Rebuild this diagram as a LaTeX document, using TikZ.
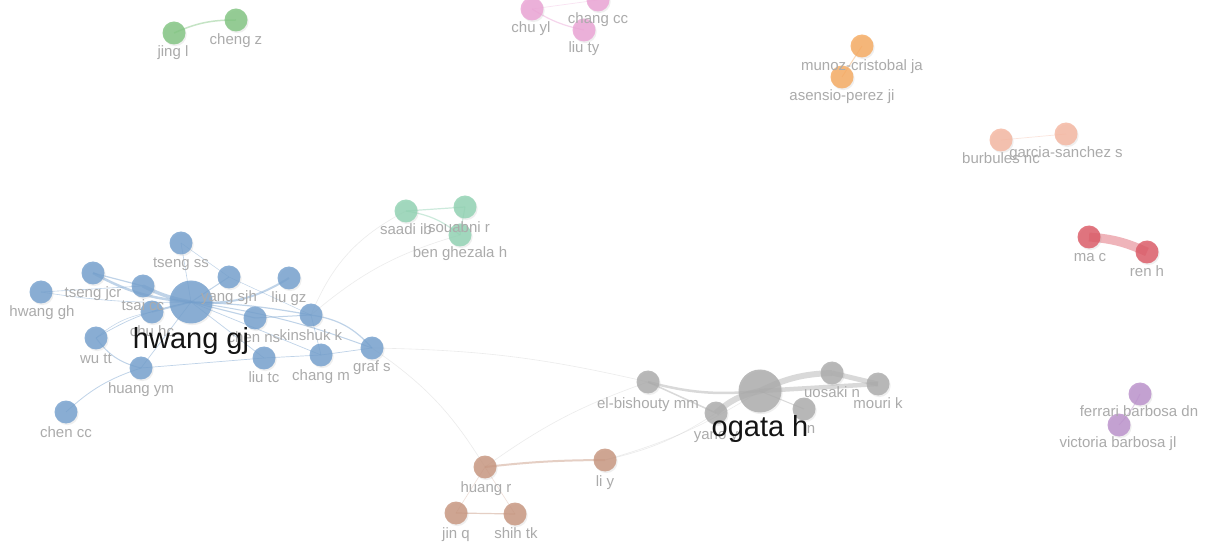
\documentclass[tikz,border=0pt]{standalone}
\usepackage{fontspec}
\setmainfont{Liberation Sans}
\usetikzlibrary{shadows}
\definecolor{cblue}{HTML}{739FCD}
\definecolor{cgray}{HTML}{ABABAB}
\definecolor{cgreen}{HTML}{80C480}
\definecolor{cpink}{HTML}{EBA3D5}
\definecolor{corange}{HTML}{F6AA60}
\definecolor{csalmon}{HTML}{F5B6A0}
\definecolor{cred}{HTML}{DC5A66}
\definecolor{cpurple}{HTML}{BA90CB}
\definecolor{cteal}{HTML}{90D2B2}
\definecolor{cbrown}{HTML}{C7957E}
\definecolor{labc}{HTML}{ABABAB}
\tikzset{
 au/.style={circle, fill=#1, fill opacity=0.82, inner sep=0pt, minimum size=23pt,
   drop shadow={opacity=0.12, shadow xshift=1.2pt, shadow yshift=-1.6pt}},
 bignode/.style={minimum size=43pt},
 lab/.style={text=labc, font=\fontsize{15}{15}\selectfont, inner sep=0pt, anchor=base},
 biglab/.style={text=black!92, font=\fontsize{29}{29}\selectfont, inner sep=0pt, anchor=base},
 ln/.style={draw=#1, line width=0.9pt, draw opacity=0.45},
 faint/.style={draw=black!25, line width=0.6pt, draw opacity=0.3},
}
\begin{document}
\begin{tikzpicture}[x=1pt,y=-1pt]
\fill[white] (0,0) rectangle (1208,545);
\useasboundingbox (0,0) rectangle (1208,545);
% ---------- positions ----------
% blue
\coordinate (hgj) at (191,302);
\coordinate (tss) at (181,243);
\coordinate (ysjh) at (229,277);
\coordinate (lgz) at (289,278);
\coordinate (tjcr) at (93,273);
\coordinate (tcc) at (143,286);
\coordinate (hgh) at (41,292);
\coordinate (chc) at (152,312);
\coordinate (wtt) at (96,338);
\coordinate (hym) at (141,368);
\coordinate (ccc) at (66,412);
\coordinate (cns) at (255,318);
\coordinate (kk) at (311,315);
\coordinate (ltc) at (264,358);
\coordinate (cm) at (321,355);
\coordinate (gs) at (372,348);
% gray
\coordinate (ogh) at (760,391);
\coordinate (elb) at (648,382);
\coordinate (yano) at (716,413);
\coordinate (uos) at (832,373);
\coordinate (mouri) at (878,384);
\coordinate (nn) at (804,409);
% brown
\coordinate (hr) at (485,467);
\coordinate (liy) at (605,460);
\coordinate (jq) at (456,513);
\coordinate (stk) at (515,514);
% teal
\coordinate (sib) at (406,211);
\coordinate (sr) at (465,207);
\coordinate (bgh) at (460,235);
% others
\coordinate (jl) at (174,33);
\coordinate (cz) at (236,20);
\coordinate (cyl) at (532,9);
\coordinate (ccc2) at (598,0);
\coordinate (lty) at (584,30);
\coordinate (mcj) at (862,46);
\coordinate (apj) at (842,77);
\coordinate (bnc) at (1001,140);
\coordinate (gss) at (1066,134);
\coordinate (mac) at (1089,237);
\coordinate (renh) at (1147,252);
\coordinate (fbd) at (1140,394);
\coordinate (vbj) at (1119,425);
% ---------- faint cross-cluster edges ----------
\draw[faint] (kk) to[bend left=20] (sib);
\draw[faint] (kk) to[bend left=12] (bgh);
\draw[faint] (gs) to[bend left=6] (elb);
\draw[faint] (gs) to[bend left=12] (hr);
\draw[faint] (liy) to[bend right=10] (yano);
\draw[faint] (hr) to[bend left=8] (elb);
\draw[faint] (liy) to[bend right=8] (ogh);
% ---------- blue edges ----------
\draw[ln=cblue, line width=2.5pt] (tjcr) to[bend right=12] (hgj);
\draw[ln=cblue, line width=3.5pt] (tcc) to[bend right=8] (hgj);
\draw[ln=cblue, line width=2pt] (hgj) to[bend right=18] (lgz);
\draw[ln=cblue, line width=1pt] (hgj) -- (ysjh);
\draw[ln=cblue, line width=0.6pt] (hgj) -- (tss);
\draw[ln=cblue, line width=0.6pt] (hgj) to[bend left=5] (hgh);
\draw[ln=cblue, line width=1.2pt] (hgj) -- (cns);
\draw[ln=cblue, line width=1.2pt] (hgj) to[bend left=4] (kk);
\draw[ln=cblue, line width=1pt] (hgj) to[bend left=6] (gs);
\draw[ln=cblue, line width=1.5pt] (hgj) -- (chc);
\draw[ln=cblue, line width=0.7pt] (hgj) to[bend right=10] (wtt);
\draw[ln=cblue, line width=0.7pt] (hgj) -- (hym);
\draw[ln=cblue, line width=0.7pt] (hgj) -- (ltc);
\draw[ln=cblue, line width=0.7pt] (hgj) -- (cm);
\draw[ln=cblue, line width=1.2pt] (tjcr) -- (tcc);
\draw[ln=cblue, line width=0.6pt] (hgh) -- (tcc);
\draw[ln=cblue, line width=1pt] (wtt) to[bend right=20] (hym);
\draw[ln=cblue, line width=0.8pt] (hym) to[bend right=12] (ccc);
\draw[ln=cblue, line width=0.7pt] (hym) -- (ltc);
\draw[ln=cblue, line width=0.7pt] (ltc) -- (cm);
\draw[ln=cblue, line width=0.7pt] (cm) -- (gs);
\draw[ln=cblue, line width=1.2pt] (kk) to[bend left=20] (gs);
\draw[ln=cblue, line width=0.7pt] (kk) -- (cm);
\draw[ln=cblue, line width=1pt] (cns) -- (kk);
\draw[ln=cblue, line width=0.5pt] (tss) -- (ysjh);
\draw[ln=cblue, line width=0.5pt] (ysjh) -- (kk);
\draw[ln=cblue, line width=0.5pt] (wtt) to[bend left=15] (chc);
% ---------- gray edges ----------
\draw[ln=cgray, line width=6pt] (yano) to[bend left=15] (ogh);
\draw[ln=cgray, line width=6pt] (ogh) to[bend left=12] (uos);
\draw[ln=cgray, line width=5pt] (uos) -- (mouri);
\draw[ln=cgray, line width=4.5pt] (ogh) -- (mouri);
\draw[ln=cgray, line width=2.5pt] (elb) to[bend right=10] (ogh);
\draw[ln=cgray, line width=1.5pt] (elb) -- (yano);
\draw[ln=cgray, line width=1pt] (ogh) -- (nn);
% ---------- brown edges ----------
\draw[ln=cbrown, line width=2pt] (hr) to[bend left=3] (liy);
\draw[ln=cbrown, line width=1.2pt] (jq) -- (stk);
\draw[ln=cbrown, line width=0.6pt, draw opacity=0.3] (hr) -- (jq);
\draw[ln=cbrown, line width=0.6pt, draw opacity=0.3] (hr) -- (stk);
% ---------- other edges ----------
\draw[ln=cgreen, line width=1.5pt] (jl) to[bend left=12] (cz);
\draw[ln=cpink, line width=1.2pt] (cyl) to[bend right=10] (lty);
\draw[ln=cpink, line width=0.7pt, draw opacity=0.3] (cyl) -- (ccc2);
\draw[ln=corange, line width=1pt] (mcj) -- (apj);
\draw[ln=csalmon, line width=0.7pt, draw opacity=0.35] (bnc) -- (gss);
\draw[ln=cred, line width=9pt] (mac) to[bend left=10] (renh);
\draw[ln=cpurple, line width=1pt] (fbd) to[bend left=8] (vbj);
\draw[ln=cteal, line width=1.2pt] (sib) -- (sr);
\draw[ln=cteal, line width=1.2pt] (sib) to[bend left=15] (bgh);
\draw[ln=cteal, line width=1pt] (sr) -- (bgh);
% ---------- circles ----------
\foreach \p in {tss,ysjh,lgz,tjcr,tcc,hgh,chc,wtt,hym,ccc,cns,kk,ltc,cm,gs}
  \node[au=cblue] (n-\p) at (\p) {};
\node[au=cblue, bignode] (n-hgj) at (hgj) {};
\foreach \p in {elb,yano,uos,mouri,nn}
  \node[au=cgray] (n-\p) at (\p) {};
\node[au=cgray, bignode] (n-ogh) at (ogh) {};
\foreach \p in {hr,liy,jq,stk} \node[au=cbrown] (n-\p) at (\p) {};
\foreach \p in {sib,sr,bgh} \node[au=cteal] (n-\p) at (\p) {};
\foreach \p in {jl,cz} \node[au=cgreen] (n-\p) at (\p) {};
\foreach \p in {cyl,ccc2,lty} \node[au=cpink] (n-\p) at (\p) {};
\foreach \p in {mcj,apj} \node[au=corange] (n-\p) at (\p) {};
\foreach \p in {bnc,gss} \node[au=csalmon] (n-\p) at (\p) {};
\foreach \p in {mac,renh} \node[au=cred] (n-\p) at (\p) {};
\foreach \p in {fbd,vbj} \node[au=cpurple] (n-\p) at (\p) {};
% ---------- labels ----------
\node[lab] (l-tss) at (181,268) {tseng ss};
\node[lab] (l-ysjh) at (229,302) {yang sjh};
\node[lab] (l-lgz) at (289,303) {liu gz};
\node[lab] (l-tjcr) at (93,298) {tseng jcr};
\node[lab] (l-tcc) at (143,311) {tsai cc};
\node[lab] (l-hgh) at (42,317) {hwang gh};
\node[lab] (l-chc) at (152,337) {chu hc};
\node[lab] (l-wtt) at (96,363) {wu tt};
\node[lab] (l-hym) at (141,393) {huang ym};
\node[lab] (l-ccc) at (66,437) {chen cc};
\node[lab] (l-cns) at (254,343) {chen ns};
\node[lab] (l-kk) at (311,341) {kinshuk k};
\node[lab] (l-ltc) at (264,383) {liu tc};
\node[lab] (l-cm) at (321,381) {chang m};
\node[lab] (l-gs) at (372,372) {graf s};
\node[biglab] (l-hgj) at (191,349) {hwang gj};
\node[lab] (l-elb) at (648,408) {el-bishouty mm};
\node[lab] (l-yano) at (716,439) {yano y};
\node[lab] (l-uos) at (832,398) {uosaki n};
\node[lab] (l-mouri) at (878,409) {mouri k};
\node[lab] (l-nn) at (811,433) {n};
\node[biglab] (l-ogh) at (760,436) {ogata h};
\node[lab] (l-hr) at (486,492) {huang r};
\node[lab] (l-liy) at (605,486) {li y};
\node[lab] (l-jq) at (456,538) {jin q};
\node[lab] (l-stk) at (516,538) {shih tk};
\node[lab] (l-sib) at (406,235) {saadi ib};
\node[lab] (l-sr) at (459,233) {souabni r};
\node[lab] (l-bgh) at (460,258) {ben ghezala h};
\node[lab] (l-jl) at (173,57) {jing l};
\node[lab] (l-cz) at (236,45) {cheng z};
\node[lab] (l-cyl) at (531,33) {chu yl};
\node[lab] (l-ccc2) at (598,24) {chang cc};
\node[lab] (l-lty) at (584,53) {liu ty};
\node[lab] (l-mcj) at (862,71) {munoz-cristobal ja};
\node[lab] (l-apj) at (842,101) {asensio-perez ji};
\node[lab] (l-bnc) at (1001,164) {burbules nc};
\node[lab] (l-gss) at (1066,158) {garcia-sanchez s};
\node[lab] (l-mac) at (1090,262) {ma c};
\node[lab] (l-renh) at (1147,277) {ren h};
\node[lab] (l-fbd) at (1139,417) {ferrari barbosa dn};
\node[lab] (l-vbj) at (1118,447) {victoria barbosa jl};
\end{tikzpicture}
\end{document}
